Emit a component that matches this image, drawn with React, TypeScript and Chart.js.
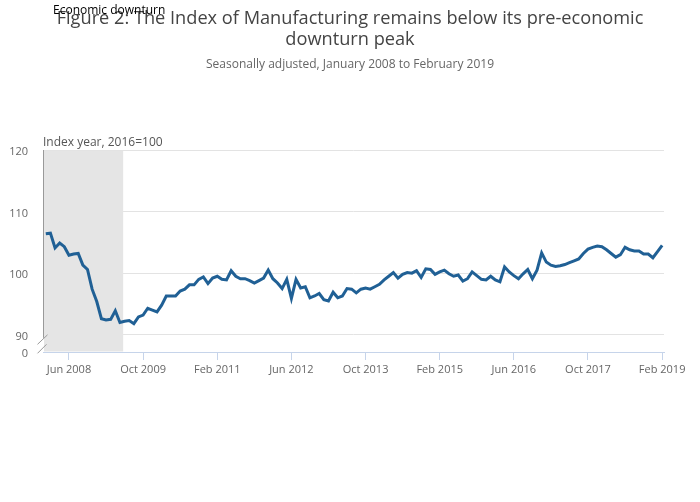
import React, { useEffect, useRef } from "react";
import { Chart, registerables } from "chart.js";

Chart.register(...registerables);

// Monthly index values, Jan 2008 .. Feb 2019
const indexValues: number[] = [
  106.4, 106.5, 104.1, 104.9, 104.3, 102.9, 103.1, 103.2, 101.3, 100.6,
  97.4, 95.4, 92.6, 92.4, 92.5, 93.9, 92.0, 92.2, 92.3, 91.8,
  92.9, 93.2, 94.3, 94.0, 93.7, 94.8, 96.3, 96.3, 96.3, 97.1,
  97.4, 98.1, 98.1, 99.0, 99.4, 98.3, 99.2, 99.5, 99.0, 98.9,
  100.4, 99.5, 99.1, 99.1, 98.8, 98.4, 98.8, 99.2, 100.5, 99.1,
  98.4, 97.5, 99.0, 95.9, 99.0, 97.6, 97.8, 96.0, 96.3, 96.7,
  95.7, 95.5, 96.9, 96.0, 96.3, 97.5, 97.4, 96.8, 97.4, 97.6,
  97.4, 97.8, 98.2, 98.9, 99.5, 100.1, 99.2, 99.8, 100.1, 100.0,
  100.4, 99.3, 100.7, 100.6, 99.8, 100.2, 100.5, 99.9, 99.5, 99.7,
  98.7, 99.1, 100.2, 99.6, 99.0, 98.9, 99.5, 98.9, 98.6, 101.0,
  100.2, 99.6, 99.1, 99.9, 100.6, 99.1, 100.5, 103.3, 101.8, 101.3,
  101.1, 101.2, 101.4, 101.7, 102.0, 102.3, 103.2, 103.9, 104.2, 104.4,
  104.3, 103.8, 103.2, 102.6, 103.0, 104.2, 103.8, 103.6, 103.6, 103.1,
  103.1, 102.5, 103.5, 104.5,
];

// x tick positions (month index from Jan 2008) and their labels
const xTickPositions: number[] = [5, 21, 37, 53, 69, 85, 101, 117, 133];
const xTickLabels: string[] = [
  "Jun 2008", "Oct 2009", "Feb 2011", "Jun 2012", "Oct 2013",
  "Feb 2015", "Jun 2016", "Oct 2017", "Feb 2019",
];

// y axis (broken at the bottom: lowest tick shown as 0)
const yMin = 87.2;
const yMax = 120;
const yTickValues: number[] = [yMin, 90, 100, 110, 120];
const yTickLabels: string[] = ["0", "90", "100", "110", "120"];

// economic downturn shading (month index range)
const downturnStart = -0.6;
const downturnEnd = 16.7;

const xMin = -0.6;
const xMax = 133.4;

const titleLines: string[] = [
  "Figure 2: The Index of Manufacturing remains below its pre-economic",
  "downturn peak",
];
const subtitle = "Seasonally adjusted, January 2008 to February 2019";
const yAxisTitle = "Index year, 2016=100";
const annotationText = "Economic downturn";

const FONT = "'Open Sans', sans-serif";

const decorPlugin = {
  id: "decor",
  beforeDatasetsDraw(chart: any) {
    const { ctx, chartArea, scales } = chart;
    const x = scales.x;
    const y = scales.y;
    ctx.save();
    // downturn shading
    const x0 = Math.max(chartArea.left + 1, x.getPixelForValue(downturnStart));
    const x1 = x.getPixelForValue(downturnEnd);
    ctx.fillStyle = "#e5e5e5";
    ctx.fillRect(x0, chartArea.top + 1, x1 - x0, chartArea.bottom - chartArea.top - 1.5);

    // left axis line with break marks
    const breakY = y.getPixelForValue(89.5);
    ctx.strokeStyle = "#999";
    ctx.lineWidth = 1;
    ctx.beginPath();
    ctx.moveTo(chartArea.left + 0.5, chartArea.top);
    ctx.lineTo(chartArea.left + 0.5, breakY);
    ctx.stroke();
    ctx.beginPath();
    ctx.moveTo(chartArea.left - 5.5, breakY + 6.5);
    ctx.lineTo(chartArea.left + 4.5, breakY - 3);
    ctx.moveTo(chartArea.left - 5.5, breakY + 15.5);
    ctx.lineTo(chartArea.left + 3.5, breakY + 6.5);
    ctx.stroke();
    ctx.restore();
  },
  afterDraw(chart: any) {
    const { ctx, chartArea } = chart;
    ctx.save();
    ctx.textAlign = "center";
    ctx.textBaseline = "middle";
    ctx.fillStyle = "#444";
    ctx.font = `18.2px ${FONT}`;
    ctx.fillText(titleLines[0], 350, 18.5);
    ctx.fillText(titleLines[1], 350, 39.5);
    ctx.fillStyle = "#666";
    ctx.font = `12px ${FONT}`;
    ctx.fillText(subtitle, 350, 64.5);

    ctx.textAlign = "left";
    ctx.fillStyle = "#555";
    ctx.font = `12px ${FONT}`;
    ctx.fillText(yAxisTitle, chartArea.left, 142.5);

    ctx.fillStyle = "#000";
    ctx.font = `12px ${FONT}`;
    ctx.fillText(annotationText, 53, 11);
    ctx.restore();
  },
};

export default function App() {
  const canvasRef = useRef<HTMLCanvasElement | null>(null);

  useEffect(() => {
    const canvas = canvasRef.current;
    if (!canvas) return;
    const points = indexValues.map((v, i) => ({ x: i, y: v }));
    const chart = new Chart(canvas, {
      type: "line",
      data: {
        datasets: [
          {
            label: "Index of Manufacturing",
            data: points,
            borderColor: "#206095",
            borderWidth: 3,
            pointRadius: 0,
            tension: 0,
            fill: false,
          },
        ],
      },
      options: {
        animation: false,
        responsive: false,
        maintainAspectRatio: false,
        layout: { padding: { left: 0, right: 36, top: 150, bottom: 0 } },
        plugins: {
          legend: { display: false },
          title: { display: false },
          tooltip: { enabled: false },
        },
        scales: {
          x: {
            type: "linear",
            min: xMin,
            max: xMax,
            afterFit(scale: any) {
              scale.height = 150;
            },
            afterBuildTicks(scale: any) {
              scale.ticks = xTickPositions.map((v) => ({ value: v }));
            },
            grid: {
              display: true,
              drawOnChartArea: false,
              drawTicks: true,
              tickLength: 8,
              color: "#c6d4ea",
            },
            border: { display: true, color: "#c6d4ea", width: 1 },
            ticks: {
              autoSkip: false,
              maxRotation: 0,
              padding: 3,
              color: "#666",
              font: { family: FONT, size: 11 },
              callback(value: any) {
                const idx = xTickPositions.indexOf(Number(value));
                return idx >= 0 ? xTickLabels[idx] : "";
              },
            },
          },
          y: {
            type: "linear",
            min: yMin,
            max: yMax,
            afterFit(scale: any) {
              scale.width = 43;
            },
            afterBuildTicks(scale: any) {
              scale.ticks = yTickValues.map((v) => ({ value: v }));
            },
            grid: {
              drawTicks: false,
              color: (c: any) =>
                c.tick && c.tick.value === yMin ? "rgba(0,0,0,0)" : "#e3e3e3",
            },
            border: { display: false },
            ticks: {
              padding: 15,
              labelOffset: 2,
              color: "#666",
              font: { family: FONT, size: 11 },
              callback(value: any) {
                const idx = yTickValues.indexOf(Number(value));
                return idx >= 0 ? yTickLabels[idx] : "";
              },
            },
          },
        },
      },
      plugins: [decorPlugin],
    });
    return () => chart.destroy();
  }, []);

  return (
    <div
      style={{
        position: "fixed",
        left: 0,
        top: 0,
        width: 700,
        height: 502,
        background: "#fff",
      }}
    >
      <canvas ref={canvasRef} width={700} height={502} style={{ width: 700, height: 502 }} />
    </div>
  );
}
